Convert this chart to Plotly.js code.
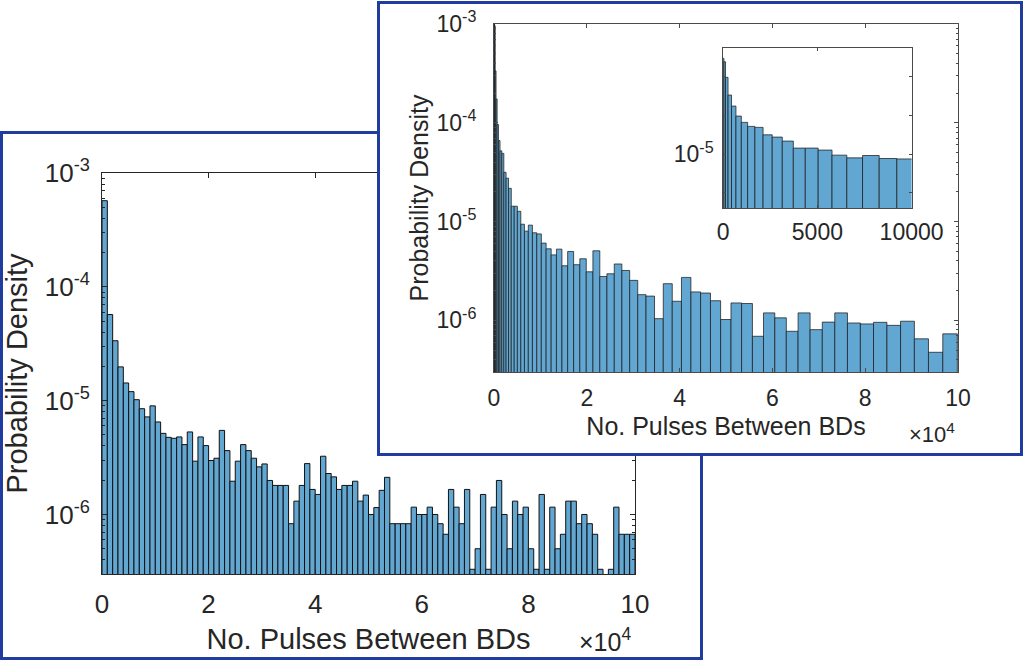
<!DOCTYPE html>
<html>
<head>
<meta charset="utf-8">
<script src="https://cdn.plot.ly/plotly-3.0.1.min.js"></script>
<style>
  html, body { margin: 0; padding: 0; background: #ffffff; }
  body { width: 1025px; height: 661px; position: relative; overflow: hidden; }
  .panel { position: absolute; background: #ffffff; }
  .frame { position: absolute; box-sizing: border-box; border: 3px solid #1f3c9e; pointer-events: none; }
  #left { left: 0px; top: 131px; width: 703px; height: 529px; }
  #leftFrame { left: 0px; top: 131px; width: 703px; height: 529px; }
  #right { left: 377px; top: 1px; width: 646px; height: 455px; }
  #rightFrame { left: 377px; top: 1px; width: 646px; height: 455px; }
</style>
</head>
<body>
<div id="left" class="panel"></div>
<div id="leftFrame" class="frame"></div>
<div id="right" class="panel"></div>
<div id="rightFrame" class="frame"></div>
<script>
// ---- Data ----------------------------------------------------------------
// Uniform histogram: 100 bins of 1000 pulses each, 0 .. 1e5
const uniformBinWidth = 1000;
const uniformDensity = [
  5.71e-4, 5.71e-5, 3.36e-5, 1.98e-5, 1.43e-5, 1.2e-5, 1.02e-5, 8.5e-6, 7.2e-6, 9.0e-6,
  6.5e-6, 5.16e-6, 4.76e-6, 4.67e-6, 4.8e-6, 4.11e-6, 5.31e-6, 2.94e-6, 4.8e-6, 4.03e-6,
  2.98e-6, 3.12e-6, 5.48e-6, 3.64e-6, 1.96e-6, 2.94e-6, 4.11e-6, 3.64e-6, 3.12e-6, 2.62e-6,
  2.78e-6, 1.99e-6, 1.8e-6, 1.8e-6, 1.8e-6, 8.3e-7, 1.31e-6, 1.8e-6, 2.8e-6, 1.66e-6,
  1.5e-6, 3.25e-6, 2.29e-6, 2.14e-6, 1.66e-6, 1.8e-6, 1.8e-6, 1.96e-6, 1.31e-6, 1.48e-6,
  1.0e-6, 1.15e-6, 1.63e-6, 2.12e-6, 8.3e-7, 8.3e-7, 8.3e-7, 8.3e-7, 1.16e-6, 1.0e-6,
  1.0e-6, 1.16e-6, 1.0e-6, 8.3e-7, 6.7e-7, 1.66e-6, 1.16e-6, 8.3e-7, 1.66e-6, 3.3e-7,
  5.0e-7, 1.5e-6, 3.3e-7, 1.16e-6, 1.99e-6, 1.0e-6, 5.0e-7, 1.31e-6, 1.0e-6, 1.16e-6,
  5.0e-7, 3.3e-7, 1.5e-6, 3.3e-7, 1.16e-6, 5.0e-7, 6.7e-7, 1.31e-6, 1.31e-6, 8.3e-7,
  1.0e-6, 8.3e-7, 6.7e-7, 3.3e-7, 1.66e-7, 3.3e-7, 1.16e-6, 6.7e-7, 6.7e-7, 6.7e-7
];

// Square-root spaced histogram: bin edges and densities
const sqrtBinEdges = [
  1, 36, 121, 256, 441, 676, 961, 1296, 1681, 2116,
  2601, 3136, 3721, 4356, 5041, 5776, 6561, 7396, 8281, 9216,
  10201, 11236, 12321, 13456, 14641, 15876, 17161, 18496, 19881, 21316,
  22801, 24336, 25921, 27556, 29241, 30976, 32761, 34596, 36481, 38416,
  40401, 42436, 44521, 46656, 48841, 51076, 53361, 55696, 58081, 60516,
  63001, 65536, 68121, 70756, 73441, 76176, 78961, 81796, 84681, 87616,
  90601, 93636, 96721, 99856
];
const sqrtDensity = [
  3.0e-3, 2.43e-3, 9.6e-4, 3.35e-4, 1.74e-4, 9.6e-5, 6.6e-5, 5.2e-5, 4.9e-5, 3.15e-5,
  2.75e-5, 2.17e-5, 1.43e-5, 1.43e-5, 1.27e-5, 9.4e-6, 8.0e-6, 9.2e-6, 7.7e-6, 7.5e-6,
  6.05e-6, 5.3e-6, 4.6e-6, 5.26e-6, 3.57e-6, 4.98e-6, 3.66e-6, 4.2e-6, 3.1e-6, 5.06e-6,
  2.78e-6, 2.96e-6, 3.72e-6, 3.2e-6, 2.54e-6, 1.82e-6, 1.76e-6, 1.04e-6, 2.35e-6, 1.56e-6,
  2.72e-6, 1.94e-6, 1.89e-6, 1.58e-6, 1.02e-6, 1.50e-6, 1.48e-6, 6.9e-7, 1.19e-6, 1.06e-6,
  7.75e-7, 1.19e-6, 8.05e-7, 9.6e-7, 1.19e-6, 9.4e-7, 9.2e-7, 9.55e-7, 8.9e-7, 9.8e-7,
  6.5e-7, 4.75e-7, 7.3e-7
];

// Axis ticks
const xTickVals = [0, 20000, 40000, 60000, 80000, 100000];
const xTickText = ['0', '2', '4', '6', '8', '10'];
const yTickVals = [1e-6, 1e-5, 1e-4, 1e-3];
const yTickText = ['10<sup>-6</sup>', '10<sup>-5</sup>', '10<sup>-4</sup>', '10<sup>-3</sup>'];
const insetXTickVals = [0, 5000, 10000];
const insetXTickText = ['0', '5000', '10000'];
const insetYLabelVals = [1e-5];
const insetYLabelText = ['10<sup>-5</sup>'];
const insetYOtherDecades = [1e-6, 1e-4, 1e-3];
const xTitle = 'No. Pulses Between BDs';
const yTitle = 'Probability Density';

// ---- Helpers -------------------------------------------------------------
const FONT = '"Liberation Sans", Arial, Helvetica, sans-serif';
const TEXT = '#262626';
const BAR_FILL = 'rgb(98,166,210)';

function minorLogTicks(lo, hi) {
  const out = [];
  for (let e = lo; e <= hi; e++) {
    for (let m = 2; m <= 9; m++) out.push(m * Math.pow(10, e));
  }
  return out;
}
const minorTicks = minorLogTicks(-7, -4);

const uniformCenters = uniformDensity.map((_, i) => (i + 0.5) * uniformBinWidth);
const uniformWidths = uniformDensity.map(() => uniformBinWidth);
const sqrtCenters = sqrtDensity.map((_, i) => (sqrtBinEdges[i] + sqrtBinEdges[i + 1]) / 2);
const sqrtWidths = sqrtDensity.map((_, i) => sqrtBinEdges[i + 1] - sqrtBinEdges[i]);

const yRange = [Math.log10(3e-7), -3];
const config = { staticPlot: true, displayModeBar: false };

// ---- Panel 1: uniform bins ----------------------------------------------
Plotly.newPlot('left', [{
  type: 'bar',
  x: uniformCenters,
  y: uniformDensity,
  width: uniformWidths,
  marker: { color: BAR_FILL, line: { color: '#111111', width: 1 } },
  hoverinfo: 'skip'
}], {
  width: 703, height: 529,
  margin: { l: 102, r: 68, t: 42, b: 86 },
  paper_bgcolor: '#ffffff', plot_bgcolor: '#ffffff',
  font: { family: FONT, color: TEXT },
  showlegend: false,
  xaxis: {
    range: [0, 100000], tickmode: 'array', tickvals: xTickVals, ticktext: xTickText,
    ticks: 'inside', ticklen: 5, tickcolor: TEXT, showline: true, linecolor: TEXT, linewidth: 1,
    mirror: 'ticks', showgrid: false, zeroline: false,
    tickfont: { size: 26, color: TEXT }, ticklabelstandoff: 7,
    title: { text: xTitle, font: { size: 29, color: TEXT }, standoff: 10 }
  },
  yaxis: {
    type: 'log', range: yRange, tickmode: 'array', tickvals: yTickVals, ticktext: yTickText,
    ticks: 'inside', ticklen: 5, tickcolor: TEXT, showline: true, linecolor: TEXT, linewidth: 1,
    mirror: 'ticks', showgrid: false, zeroline: false,
    minor: { tickmode: 'array', tickvals: minorTicks, ticks: 'inside', ticklen: 3, tickcolor: TEXT },
    tickfont: { size: 26, color: TEXT }, ticklabelstandoff: 6,
    title: { text: yTitle, font: { size: 29, color: TEXT }, standoff: 8 }
  },
  annotations: [{
    xref: 'paper', yref: 'paper', x: 0.996, y: -0.165, xanchor: 'right', yanchor: 'middle',
    text: '×10<sup>4</sup>', showarrow: false, font: { size: 25, color: TEXT }
  }]
}, config);

// ---- Panel 2: square-root bins with zoomed inset -----------------------
const RIGHT_LINE = '#4a4a4a';
const RIGHT_BAR_LINE = 'rgba(30,30,30,0.75)';
Plotly.newPlot('right', [{
  type: 'bar', xaxis: 'x', yaxis: 'y',
  x: sqrtCenters, y: sqrtDensity, width: sqrtWidths,
  marker: { color: BAR_FILL, line: { color: RIGHT_BAR_LINE, width: 1 } },
  hoverinfo: 'skip'
}, {
  type: 'bar', xaxis: 'x2', yaxis: 'y2',
  x: sqrtCenters, y: sqrtDensity, width: sqrtWidths,
  marker: { color: BAR_FILL, line: { color: RIGHT_BAR_LINE, width: 1 } },
  hoverinfo: 'skip'
}], {
  width: 646, height: 455,
  margin: { l: 117, r: 65, t: 23, b: 84 },
  paper_bgcolor: '#ffffff', plot_bgcolor: '#ffffff',
  font: { family: FONT, color: TEXT },
  showlegend: false,
  xaxis: {
    domain: [0, 1], anchor: 'y',
    range: [0, 100000], tickmode: 'array', tickvals: xTickVals, ticktext: xTickText,
    ticks: 'inside', ticklen: 4, tickcolor: RIGHT_LINE, showline: true, linecolor: RIGHT_LINE, linewidth: 1,
    mirror: 'ticks', showgrid: false, zeroline: false,
    tickfont: { size: 23, color: TEXT }, ticklabelstandoff: 5,
    title: { text: xTitle, font: { size: 25, color: TEXT }, standoff: 7 }
  },
  yaxis: {
    domain: [0, 1], anchor: 'x',
    type: 'log', range: yRange, tickmode: 'array', tickvals: yTickVals, ticktext: yTickText,
    ticks: 'inside', ticklen: 4, tickcolor: RIGHT_LINE, showline: true, linecolor: RIGHT_LINE, linewidth: 1,
    mirror: 'ticks', showgrid: false, zeroline: false,
    minor: { tickmode: 'array', tickvals: minorTicks, ticks: 'inside', ticklen: 2, tickcolor: RIGHT_LINE },
    tickfont: { size: 23, color: TEXT }, ticklabelstandoff: 12,
    title: { text: yTitle, font: { size: 25, color: TEXT }, standoff: 0 }
  },
  xaxis2: {
    domain: [0.494, 0.900], anchor: 'y2',
    range: [0, 10000], tickmode: 'array', tickvals: insetXTickVals, ticktext: insetXTickText,
    ticks: 'inside', ticklen: 3, tickcolor: RIGHT_LINE, showline: true, linecolor: RIGHT_LINE, linewidth: 1,
    mirror: 'ticks', showgrid: false, zeroline: false,
    tickfont: { size: 23, color: TEXT }, ticklabelstandoff: 3
  },
  yaxis2: {
    domain: [0.470, 0.930], anchor: 'x2',
    type: 'log', range: [-6.403, -2.269], tickmode: 'array', tickvals: insetYLabelVals, ticktext: insetYLabelText,
    ticks: 'inside', ticklen: 3, tickcolor: RIGHT_LINE, showline: true, linecolor: RIGHT_LINE, linewidth: 1,
    mirror: 'ticks', showgrid: false, zeroline: false,
    minor: { tickmode: 'array', tickvals: insetYOtherDecades, ticks: 'inside', ticklen: 3, tickcolor: RIGHT_LINE },
    tickfont: { size: 23, color: TEXT }, ticklabelstandoff: 4
  },
  annotations: [{
    xref: 'paper', yref: 'paper', x: 0.998, y: -0.175, xanchor: 'right', yanchor: 'middle',
    text: '×10<sup>4</sup>', showarrow: false, font: { size: 22, color: TEXT }
  }]
}, config);
</script>
</body>
</html>
